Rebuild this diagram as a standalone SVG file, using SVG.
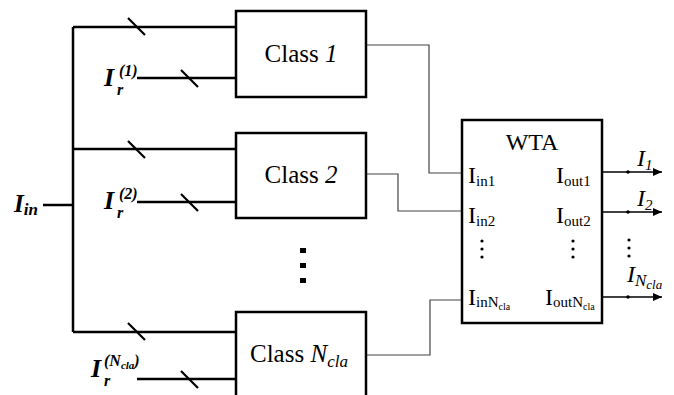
<svg xmlns="http://www.w3.org/2000/svg" width="674" height="395" viewBox="0 0 674 395">
<style>
.thick{stroke:#000;stroke-width:2.5;fill:none}
.box{stroke:#000;stroke-width:2.5;fill:#fff}
.thin{stroke:#444;stroke-width:1.2;fill:none}
.tick{stroke:#000;stroke-width:2.2}
.out{stroke:#000;stroke-width:1.5;fill:none}
text{font-family:"Liberation Serif","Times New Roman",serif;fill:#000}
.bi{font-weight:bold;font-style:italic}
.it{font-style:italic}
</style>
<defs>
<marker id="arr" markerWidth="10" markerHeight="10" refX="9" refY="4" orient="auto" markerUnits="userSpaceOnUse">
<path d="M0,0 L9,4 L0,8 Z" fill="#000"/>
</marker>
</defs>
<rect width="674" height="395" fill="#fff"/>
<g id="connectors">
<path class="thick" d="M73,27 V332 M73,27 H236 M73,149 H236 M73,332 H236 M43,205 H73"/>
<path class="thick" d="M137,78 H236 M137,202 H236 M137,379 H236"/>
<path class="tick" d="M128,18 L145,35 M181,70 L198,87 M128,141 L145,158 M181,194 L198,211 M128,323 L145,340 M181,371 L198,388"/>
<path class="thin" d="M366,45 H429 V173 H462"/>
<path class="thin" d="M366,174 H398 V211 H462"/>
<path class="thin" d="M366,355 H430 V300 H462"/>
<path class="out" d="M602,172 H662" marker-end="url(#arr)"/>
<path class="out" d="M602,212 H662" marker-end="url(#arr)"/>
<path class="out" d="M602,297 H662" marker-end="url(#arr)"/>
<circle cx="628" cy="172" r="1.8"/>
<circle cx="628" cy="212" r="1.8"/>
<circle cx="628" cy="297" r="1.8"/>
</g>
<g id="labels-left">
<text x="14" y="212" class="bi" font-size="25">I<tspan font-size="17" dy="3">in</tspan></text>
<text x="104" y="86" class="bi" font-size="26">I</text>
<text x="117" y="95" class="bi" font-size="16">r</text>
<text x="119" y="76" class="bi" font-size="16">(1)</text>
<text x="104" y="209" class="bi" font-size="26">I</text>
<text x="117" y="218" class="bi" font-size="16">r</text>
<text x="119" y="199" class="bi" font-size="16">(2)</text>
<text x="91" y="377" class="bi" font-size="26">I</text>
<text x="104" y="386" class="bi" font-size="16">r</text>
<text x="104" y="366" class="bi" font-size="16">(N<tspan font-size="11" dy="3">cla</tspan><tspan dy="-3">)</tspan></text>
</g>
<g id="class1">
<rect class="box" x="236" y="11" width="130" height="86"/>
<text x="301" y="62" font-size="25" text-anchor="middle">Class <tspan class="it">1</tspan></text>
</g>
<g id="class2">
<rect class="box" x="236" y="133" width="130" height="85"/>
<text x="301" y="183" font-size="25" text-anchor="middle">Class <tspan class="it">2</tspan></text>
</g>
<g id="vdots">
<rect x="300" y="248" width="6" height="5"/>
<rect x="300" y="263" width="6" height="5"/>
<rect x="300" y="278" width="6" height="5"/>
</g>
<g id="classN">
<rect class="box" x="236" y="312" width="130" height="90"/>
<text x="250" y="362" font-size="25">Class <tspan class="it">N</tspan><tspan class="it" font-size="17" dy="5">cla</tspan></text>
</g>
<g id="wta">
<rect class="box" x="462" y="120" width="140" height="203"/>
<text x="532" y="150" font-size="24" text-anchor="middle">WTA</text>
<text x="468" y="183" font-size="24">I<tspan font-size="15" dy="3">in1</tspan></text>
<text x="468" y="223" font-size="24">I<tspan font-size="15" dy="3">in2</tspan></text>
<text x="468" y="305" font-size="24">I<tspan font-size="15" dy="2">inN</tspan><tspan font-size="10" dy="3">cla</tspan></text>
<text x="556" y="183" font-size="24">I<tspan font-size="15" dy="3">out1</tspan></text>
<text x="556" y="223" font-size="24">I<tspan font-size="15" dy="3">out2</tspan></text>
<text x="545" y="305" font-size="24">I<tspan font-size="15" dy="2">outN</tspan><tspan font-size="10" dy="3">cla</tspan></text>
<circle cx="482" cy="241" r="1.6"/><circle cx="482" cy="249" r="1.6"/><circle cx="482" cy="257" r="1.6"/>
<circle cx="573" cy="241" r="1.6"/><circle cx="573" cy="249" r="1.6"/><circle cx="573" cy="257" r="1.6"/>
</g>
<g id="outputs">
<text x="637" y="166" class="it" font-size="24">I<tspan font-size="15" dy="4">1</tspan></text>
<text x="637" y="206" class="it" font-size="24">I<tspan font-size="15" dy="4">2</tspan></text>
<text x="627" y="282" class="it" font-size="24">I<tspan font-size="17" dy="4">N</tspan><tspan font-size="13" dy="3">cla</tspan></text>
<circle cx="629" cy="240" r="1.6"/><circle cx="629" cy="248" r="1.6"/><circle cx="629" cy="256" r="1.6"/>
</g>
</svg>
